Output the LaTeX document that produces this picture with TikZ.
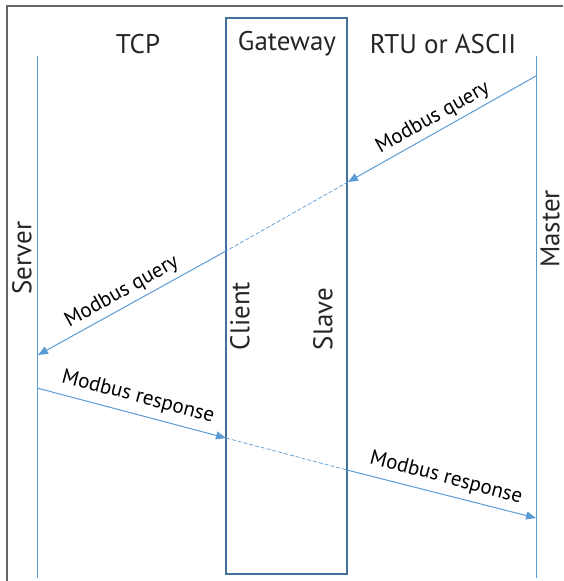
\documentclass[tikz,border=0pt]{standalone}
\usepackage{fontspec}
\setmainfont{PT Sans}
\usetikzlibrary{arrows.meta}
\definecolor{lineblue}{RGB}{91,155,213}
\definecolor{boxblue}{RGB}{65,113,156}
\definecolor{framegray}{RGB}{100,100,100}
\begin{document}
\begin{tikzpicture}[x=1pt,y=-1pt,
  life/.style={draw=lineblue,line width=0.8pt},
  msg/.style={draw=lineblue,line width=1pt,-{Triangle[length=10pt,width=8pt]}},
  thru/.style={draw=lineblue,line width=0.7pt,dashed,dash pattern=on 4pt off 2pt},
  head/.style={font=\fontsize{27}{30}\selectfont,text=black!85},
  role/.style={font=\fontsize{27}{30}\selectfont,text=black!85,rotate=90},
  lbl/.style={font=\fontsize{21}{24}\selectfont,text=black,inner sep=0pt}]
\useasboundingbox (0,0) rectangle (563,581);
\draw[framegray,line width=2pt] (6.5,581) -- (6.5,5.5) -- (563,5.5);
% lifelines
\coordinate (stop) at (37,56); \coordinate (sbot) at (37,578);
\coordinate (mtop) at (536,56); \coordinate (mbot) at (536,578);
\draw[life] (stop) -- (sbot);
\draw[life] (mtop) -- (mbot);
% gateway box
\node[draw=boxblue,line width=1.2pt,minimum width=121pt,minimum height=556pt,inner sep=0pt] (gw) at (286.5,296) {};
% headers
\node[head] (tcp) at (138,44) {TCP};
\node[head] (gwl) at (287,44) {Gateway};
\node[head] (rtu) at (443,44) {RTU or ASCII};
% roles
\node[role] (server) at (22,258) {Server};
\node[role] (master) at (550,229) {Master};
\node[role] (client) at (240,316) {Client};
\node[role] (slave) at (323,319) {Slave};
% query
\coordinate (q0) at (536,76);
\coordinate (q1) at (348,182);
\coordinate (q2) at (226,251);
\coordinate (q3) at (38,355);
\draw[msg] (q0) -- (q1);
\draw[thru] (q1) -- (q2);
\draw[msg] (q2) -- (q3);
\node[lbl,rotate=29.4] (ql1) at (433,118) {Modbus query};
\node[lbl,rotate=29.4] (ql2) at (122,292) {Modbus query};
% response
\coordinate (r0) at (37,388);
\coordinate (r1) at (226,438);
\coordinate (r2) at (347,470);
\coordinate (r3) at (536,518);
\draw[msg] (r0) -- (r1);
\draw[thru] (r1) -- (r2);
\draw[msg] (r2) -- (r3);
\node[lbl,rotate=-14.8] (rl1) at (138,397) {Modbus response};
\node[lbl,rotate=-14.8] (rl2) at (446,478) {Modbus response};
\end{tikzpicture}
\end{document}
